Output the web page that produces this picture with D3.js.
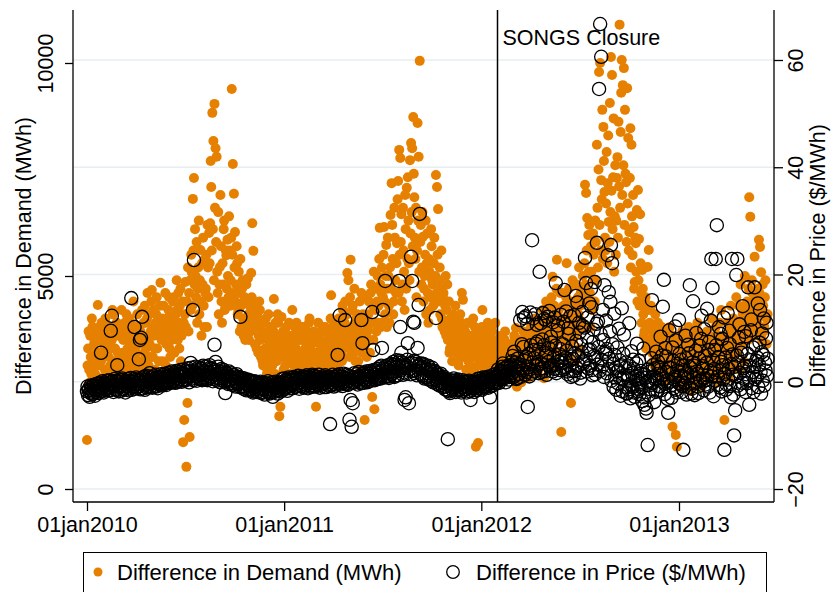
<!DOCTYPE html>
<html>
<head>
<meta charset="utf-8">
<script src="https://cdn.jsdelivr.net/npm/d3@7"></script>
<style>
  body { margin: 0; background: #fff; }
  svg { display: block; font-family: "Liberation Sans", Arial, Helvetica, sans-serif; }
</style>
</head>
<body>
<svg id="chart" width="834" height="592"></svg>
<script>
// Daily observations starting 1 Jan 2010
const seriesStart = "2010-01-01";
const sampleStepDays = 1;

// Difference in demand (MWh), one value per day
const demandMWh = [
  1150, 2900, 3300, 3700, 2800, 2500, 3600, 3100, 2700, 4000, 3800, 2900, 3100, 3400, 3500, 2700, 2600, 3600, 3200, 3000,
  4320, 3200, 2900, 3800, 3500, 2600, 3000, 3900, 3700, 3100, 2500, 3400, 3300, 2800, 4000, 3600, 2800, 3200, 3400, 2700,
  3100, 3500, 3800, 2900, 2700, 3300, 3500, 4200, 4100, 3000, 2900, 3700, 3300, 2800, 2600, 3900, 3700, 3200, 3000, 3600,
  3600, 3100, 2800, 3700, 4200, 3000, 3200, 3500, 2600, 3800, 3900, 2900, 3000, 4100, 3500, 3300, 2700, 3600, 4000, 3100,
  3300, 3900, 2900, 3400, 3700, 2800, 4400, 3500, 3100, 3800, 2600, 3200, 3600, 4100, 3000, 3400, 3800, 2900, 2800, 3700,
  3500, 3000, 4200, 3600, 2700, 3900, 3200, 4300, 3900, 3300, 3000, 4000, 4600, 3500, 2900, 4100, 3400, 3100, 3700, 4400,
  4670, 3800, 3100, 4200, 3600, 3300, 2800, 3900, 4100, 4500, 3300, 3700, 3800, 3000, 2700, 4300, 4840, 3600, 3500, 4000,
  3000, 3900, 4300, 3500, 3700, 4600, 2900, 3400, 4000, 3700, 3400, 4200, 4500, 3300, 3100, 4100, 3800, 3500, 2800, 4400,
  3600, 4500, 3200, 3900, 4100, 3700, 4900, 4200, 3500, 4600, 3900, 3300, 4300, 4700, 3000, 3600, 3800, 4400, 1100, 3900,
  1620, 4100, 4860, 3800, 520, 4400, 2020, 5200, 3700, 4600, 1220, 4900, 4200, 5500, 5090, 4300, 6810, 5600, 7300, 4800,
  6100, 5000, 4500, 5800, 3900, 4700, 5200, 6300, 4100, 4900, 5610, 4400, 3600, 5300, 4800, 5900, 4300, 3800, 5400, 4600,
  4700, 5500, 3800, 6200, 5200, 4500, 6010, 5300, 6240, 7700, 7090, 5600, 8830, 6100, 8170, 4900, 9040, 6600, 8000, 5800,
  7800, 5100, 4600, 6500, 4100, 4800, 5210, 6900, 5700, 4400, 3900, 5300, 4800, 6100, 6300, 4200, 4300, 5600, 5490, 4700,
  5850, 5000, 4500, 6400, 5600, 4300, 4900, 5900, 9390, 5500, 7630, 4600, 6930, 5200, 6030, 4400, 4800, 5700, 5300, 4100,
  4200, 5100, 4600, 3700, 5400, 4300, 3800, 4700, 4900, 4000, 3600, 4400, 4500, 3500, 3900, 4800, 4400, 3700, 4950, 4100,
  3500, 4300, 4100, 3700, 5070, 4500, 6240, 3900, 5590, 4200, 3800, 3400, 4300, 3900, 3300, 4100, 4000, 3200, 3600, 4400,
  4200, 3500, 3100, 3900, 3700, 3000, 2900, 3600, 3900, 3200, 3300, 4000, 3600, 2700, 2800, 3500, 4100, 3100, 3400, 3800,
  3000, 3500, 3800, 2900, 3200, 3700, 4460, 3300, 2700, 3900, 3600, 3000, 3100, 4100, 3900, 3400, 1710, 3200, 1930, 3600,
  4040, 3100, 3300, 3700, 2800, 3400, 3600, 2900, 2600, 3800, 3500, 3200, 3000, 2700, 3900, 3300, 2700, 3600, 3400, 3000,
  4200, 3400, 3100, 2900, 3600, 3800, 2700, 3300, 3900, 3000, 3200, 3600, 2800, 3500, 3700, 2900, 3000, 3800, 3500, 3100,
  2900, 3500, 3800, 3100, 3300, 2800, 2600, 3700, 3600, 3200, 3100, 3900, 4000, 3000, 2800, 3400, 3400, 2700, 3000, 3600,
  3700, 3200, 2700, 3500, 1930, 3000, 3200, 3600, 3900, 2800, 2900, 3400, 3500, 3000, 3100, 3700, 3800, 3300, 2600, 3100,
  3400, 3800, 3000, 3300, 3700, 2900, 2800, 3500, 3600, 3100, 3200, 4000, 4550, 3400, 3300, 3800, 2900, 3600, 3900, 3200,
  3100, 3700, 3500, 2900, 2700, 3400, 4000, 3600, 3300, 3900, 3800, 3200, 3000, 4300, 4200, 3600, 3500, 3900, 4400, 3400,
  3600, 4100, 5070, 3700, 4900, 3300, 3100, 4500, 5380, 3500, 3800, 4200, 4300, 3600, 3200, 4700, 3900, 3000, 3400, 4000,
  4100, 3500, 3000, 3900, 3700, 4400, 2800, 3600, 4600, 3200, 3300, 4100, 3600, 3900, 1620, 3400, 4000, 4500, 3100, 3700,
  3800, 4100, 4400, 3500, 3200, 4600, 4800, 3900, 2160, 4300, 3500, 5100, 1870, 3900, 4200, 4700, 3700, 4400, 5000, 3900,
  4300, 5400, 6130, 4800, 3800, 4600, 5200, 3900, 4500, 5500, 6150, 4400, 4100, 5000, 5730, 3800, 4700, 5900, 5000, 4300,
  3900, 5200, 6430, 4700, 7180, 6200, 5400, 4100, 4400, 6600, 5900, 4900, 4600, 5300, 5770, 6800, 7230, 4600, 7960, 5500,
  7770, 5800, 6450, 4400, 4800, 6600, 5600, 5100, 4200, 6900, 6100, 4700, 7070, 5400, 7320, 6300, 5300, 4900, 7720, 6000,
  8120, 6500, 8000, 5700, 8730, 7400, 6850, 5900, 5400, 6600, 4500, 5600, 8590, 6300, 7800, 5100, 10050, 5800, 6200, 4800,
  5200, 6500, 5920, 4400, 4700, 5000, 5500, 6300, 4100, 5300, 6000, 4600, 3900, 5400, 5100, 4200, 4500, 6100, 5700, 4900,
  4800, 4300, 5300, 5900, 4400, 5000, 7370, 4600, 7090, 5500, 6570, 4400, 4900, 5200, 4100, 4700, 5600, 4000, 3800, 4500,
  4600, 3900, 3700, 4300, 5000, 3600, 4200, 4800, 3500, 3800, 4400, 3200, 3300, 4000, 3900, 3400, 3000, 3700, 4100, 3500,
  3600, 3300, 4300, 3700, 3200, 4000, 3800, 3000, 2900, 3600, 3500, 4100, 3400, 3900, 4600, 3300, 4440, 3800, 3100, 3500,
  3700, 3200, 2800, 3400, 3500, 3900, 3000, 3300, 3900, 2900, 3300, 3600, 2700, 3100, 3600, 4000, 3100, 2800, 3800, 3400,
  990, 3500, 3200, 2900, 1080, 3700, 3600, 3100, 2900, 3400, 3500, 3800, 4200, 3000, 2700, 3300, 3800, 3600, 3100, 2800,
  3300, 3600, 3900, 3100, 2800, 3400, 3500, 2900, 3000, 3800, 3700, 3200, 2600, 3500, 3400, 3000, 3900, 3300, 3200, 2700,
  2700, 3100, 3500, 2800, 3000, 3400, 3600, 2600, 2500, 3200, 3300, 2900, 2900, 3500, 3700, 3000, 2600, 3300, 3200, 2800,
  3400, 2900, 2800, 3200, 3100, 2700, 2600, 3400, 3300, 3000, 2900, 3600, 3500, 2700, 3780, 3200, 2400, 2900, 3100, 3500,
  2800, 3200, 3400, 2600, 2500, 3000, 3200, 3500, 3700, 2900, 2700, 3300, 3000, 2800, 3600, 3100, 2600, 3400, 3300, 2900,
  3100, 3500, 3800, 2900, 2900, 3300, 3500, 3000, 2700, 3700, 4000, 3100, 3200, 3800, 3600, 2900, 2800, 3300, 3400, 3900,
  3900, 3300, 3000, 3600, 4200, 3100, 2600, 3700, 3500, 4000, 4400, 3200, 3100, 3600, 3800, 4300, 2900, 3400, 3300, 3900,
  4500, 3600, 4980, 3900, 3400, 4300, 4100, 3500, 2900, 4700, 5380, 3800, 3700, 4200, 3200, 3900, 4600, 3500, 1340, 4000,
  3800, 4600, 4300, 3500, 3300, 3900, 4000, 4500, 5300, 3700, 3600, 4100, 4700, 3400, 3100, 4400, 2020, 3800, 4200, 4900,
  3500, 4000, 4400, 3600, 3000, 4200, 4800, 3900, 3700, 4500, 4100, 5200, 3300, 4300, 4600, 3800, 3900, 4700, 5000, 4400,
  4500, 5300, 7140, 4800, 6950, 5600, 6360, 4400, 5960, 5100, 6200, 4600, 3800, 5700, 5100, 4200, 4300, 6000, 5500, 4900,
  4400, 6300, 5800, 4900, 8080, 6600, 5200, 7500, 9790, 6200, 10000, 5600, 7250, 6800, 8900, 5400, 8500, 7700, 6970, 5900,
  5600, 6700, 7910, 5300, 7180, 8300, 6270, 5800, 9060, 6500, 10140, 7000, 9720, 6100, 7320, 8700, 5100, 6400, 7600, 5500,
  6300, 7300, 7790, 5900, 8620, 7100, 10900, 6600, 8380, 9300, 10070, 6900, 9480, 7600, 9880, 6200, 8900, 7400, 7200, 5800,
  9410, 6700, 8240, 5600, 6030, 7300, 8470, 5200, 8080, 6400, 5490, 6900, 6150, 4700, 4860, 5900, 5770, 5100, 6550, 4400,
  7020, 4900, 5870, 4300, 6450, 5300, 4600, 3900, 5140, 4700, 4100, 3600, 3700, 4400, 4500, 3300, 3500, 4200, 5210, 3800,
  5610, 3500, 3900, 4200, 4300, 3300, 3200, 3700, 3800, 3000, 2900, 3500, 4100, 3300, 3400, 2800, 3000, 3900, 3600, 3100,
  3300, 3700, 2700, 3100, 3800, 2900, 3100, 3500, 2500, 3300, 3500, 2800, 2900, 3400, 3700, 2600, 2600, 3200, 3200, 3800,
  3400, 3000, 2800, 3300, 1460, 2700, 3600, 3100, 3000, 2600, 1270, 3400, 990, 2900, 2700, 3500, 3300, 2400, 2500, 3200,
  3100, 2800, 3700, 3300, 2400, 3000, 3400, 2700, 2900, 3600, 3500, 2500, 2600, 3200, 3800, 2900, 3000, 3400, 2300, 2800,
  3300, 3000, 2800, 3500, 3600, 2700, 2500, 3100, 3200, 3700, 3900, 2900, 2700, 3300, 3400, 2600, 3000, 3600, 2400, 3100,
  3600, 3200, 2900, 3500, 3300, 2800, 2600, 3000, 3700, 3400, 3100, 2700, 2800, 3600, 3500, 3100, 4000, 3300, 3000, 2700,
  3400, 3100, 2700, 3500, 3800, 2900, 3100, 3300, 2500, 3000, 3600, 3900, 2900, 3200, 4200, 3500, 3300, 2700, 2800, 3400,
  1620, 3200, 3500, 2900, 3000, 3600, 3900, 3300, 2600, 3100, 3400, 3800, 4300, 3500, 3100, 2800, 3700, 4000, 2900, 3300,
  3600, 3300, 4500, 3800, 3200, 3500, 3900, 4300, 2800, 3700, 4800, 3500, 3400, 4200, 4100, 3600, 3000, 3900, 5000, 4300,
  3700, 4100, 4400, 3600, 3500, 4700, 6850, 4200, 6390, 3800, 4000, 4900, 4600, 3900, 3600, 4300, 5450, 4500, 4200, 3700,
  3900, 4400, 4700, 4000, 5850, 4600, 5680, 3800, 5090, 4200, 3500, 4800, 4300, 3700, 3800, 4500, 4900, 4100, 3400, 4000,
  4100
];

// Difference in price ($/MWh), one value per day
const priceDiff = [
  -1.8, -0.9, -2.5, -1.6, -1.2, -2.8, -2.0, -0.7, -1.5, -2.3, -0.9, -1.7, -2.2, -0.6, -1.4, -2.6, -1.0, -0.4, -1.9, -1.3,
  -0.8, -2.1, -1.5, -0.2, -0.4, -1.8, 5.4, -1.1, -1.2, 0.1, -0.6, -2.0, -1.7, -0.5, -0.3, -1.4, -1.0, 0.2, -0.5, -1.6,
  -1.1, 0.3, -0.2, -1.6, 9.5, -0.8, 12.3, 0.1, -0.9, -1.9, -0.4, 0.5, -1.3, -0.6, 0.2, -1.5, 3.1, 0.0, -0.7, -1.8,
  -1.0, 0.4, -0.1, -1.7, -0.8, 0.6, 0.3, -1.3, -1.4, 0.0, -0.5, -2.0, 0.1, -0.7, -0.9, 0.5, -0.3, -1.6, -1.2, 0.2,
  -0.6, 0.7, 15.6, -1.5, 0.0, -0.9, -1.0, 0.5, 10.2, -1.3, -0.4, 0.8, 0.4, -1.1, -0.8, 0.3, 4.2, -0.2, 7.8, -1.4,
  8.2, 0.6, 12.1, -1.2, -0.2, 0.9, -0.7, -1.5, 0.3, 1.1, -1.1, 0.4, 0.0, -0.9, -0.5, 1.0, 1.6, -1.0, -0.3, 0.8,
  0.2, -1.1, -0.6, 1.0, 0.5, -0.8, -0.2, 1.3, -0.9, 0.2, 0.4, -1.2, -0.1, 0.9, 0.7, -0.6, -0.4, 1.4, 0.1, -0.7,
  -0.5, 1.2, 0.6, -0.4, 0.0, 1.5, 0.9, -0.6, -0.3, 1.1, 0.3, 1.7, 1.0, -0.1, -0.2, 1.3, 0.5, 1.9, 0.8, 0.0,
  0.2, 1.6, 1.1, -0.2, 0.6, 2.0, -0.1, 1.2, 1.3, 0.1, 0.4, 1.8, 0.9, 2.2, 1.5, 0.0, 0.3, 1.7, 1.0, 2.3,
  1.4, 0.2, 0.5, 2.1, 1.8, 0.4, 0.8, 2.5, 1.2, -0.1, 2.0, 1.0, 3.5, 2.6, 0.6, 1.5, 13.4, 0.3, 22.7, 1.9,
  1.6, 2.8, 0.9, 0.2, 2.2, 1.4, 1.1, 2.7, 1.9, 0.5, 0.7, 2.5, 2.4, 0.3, 1.3, 3.0, 0.8, 1.7, 2.0, 0.4,
  1.2, 2.9, 2.3, 0.3, 0.6, 1.8, 1.7, 3.1, 2.6, 0.7, 1.0, 2.4, 1.9, 0.1, 0.5, 2.2, 6.9, 1.3, 3.7, 0.8,
  1.4, 0.2, 2.1, 2.8, 0.7, 1.5, 1.6, -0.1, 0.3, 2.4, 1.9, 0.6, 0.9, 2.2, 1.2, 0.0, -2.1, 1.7, 0.4, 1.1,
  1.5, -0.4, 0.2, 1.9, 1.0, 0.4, -0.3, 1.6, 0.8, -0.6, 1.3, 0.1, -0.5, 1.2, 0.6, -0.9, 0.0, 1.4, 0.9, -0.2,
  -0.4, 0.9, 0.5, -1.0, 12.1, 0.2, -0.8, 0.7, 0.3, -1.3, -0.2, 0.6, -1.1, -0.3, 0.1, -1.6, -0.6, 0.4, -1.4, -0.5,
  -0.9, 0.3, 0.2, -1.6, -1.3, -0.2, -0.5, -2.0, -1.8, 0.1, -0.1, -1.4, -1.0, 0.0, -0.7, -1.9, -1.5, -0.4, -0.3, -1.7,
  -1.2, 0.0, -0.6, -2.1, -1.9, -0.5, -0.2, -1.4, -1.0, -2.4, -1.6, -0.3, -0.4, -1.8, -0.9, 0.1, -1.3, -2.0, -2.2, -0.7,
  -0.8, -2.0, -1.5, -0.1, -2.8, -1.1, -0.5, -1.9, -1.2, 0.0, -0.3, -1.6, -1.0, -2.2, -1.7, -0.4, -0.6, -1.3, -0.2, -1.8,
  -0.9, 0.5, -0.1, -1.5, -0.7, 0.6, 0.2, -1.3, -1.1, 0.3, -0.4, -1.7, 0.0, 0.8, -0.8, -1.2, 0.3, -0.6, -0.5, 0.7,
  0.4, -1.2, -0.3, 0.9, 0.1, -1.0, -0.9, 0.7, 0.6, -0.7, -0.2, 1.1, 0.2, -1.3, -0.6, 0.8, 0.5, -0.8, -0.1, 1.0,
  0.3, -1.1, -0.5, 1.0, 0.7, -0.9, 0.0, 1.2, -0.3, -1.2, 0.4, 0.9, -0.7, 0.5, 0.2, -1.0, 0.6, 1.3, -0.2, -0.8,
  0.1, 1.1, 0.5, -0.9, -0.4, 0.9, 0.8, -0.6, -0.1, 1.3, 0.3, -1.1, -0.6, 0.7, 0.6, -0.5, 0.0, 1.0, -0.3, -1.0,
  0.4, 1.2, -0.2, -1.0, 0.7, 0.1, -0.5, 1.0, 0.2, -0.8, -7.9, 0.8, 0.5, -0.6, -0.1, 1.3, 0.3, -0.9, -0.4, 0.9,
  0.6, -0.7, 0.1, 1.2, 5.0, 0.3, -0.3, 1.4, 12.4, -0.5, 0.4, 1.0, 0.9, -0.8, -0.2, 1.5, 0.2, 0.7, 11.5, -0.4,
  0.5, 1.3, 0.1, -0.6, -0.4, 1.1, -7.1, 0.3, -3.4, 1.0, -8.4, 0.6, -4.0, -0.2, 0.8, 1.6, -0.1, 0.4, 0.6, 1.4,
  0.3, -0.5, 1.0, 1.8, 0.0, 0.9, 0.7, -0.3, 11.5, 1.4, 7.2, 0.5, -0.2, 1.7, 1.2, 0.2, 0.4, 1.9, 0.9, -0.1,
  1.5, 0.1, 0.6, 2.0, 1.1, 0.4, 0.2, 1.8, 13.0, 0.9, 5.9, 2.2, 1.3, 0.3, 0.8, 2.1, 1.7, 0.6, 0.5, 2.4,
  1.2, 2.7, 2.0, 0.6, 0.9, 3.0, 6.3, 1.4, 13.4, 2.5, 1.6, 0.8, 18.8, 2.9, 2.3, 1.1, 1.0, 3.1, 1.8, 0.7,
  2.5, 1.0, 1.4, 3.3, 2.9, 1.5, 1.9, 3.7, 3.2, 0.9, 1.1, 2.8, 2.6, 4.0, 2.0, 1.2, 3.6, 2.3, 18.8, 3.9,
  10.2, 2.1, 5.4, 3.6, 2.8, 1.3, 1.7, 3.4, -3.4, 2.6, -2.9, 1.5, 3.0, 4.1, 7.2, 2.2, -4.0, 3.3, 2.4, 1.4,
  23.3, 3.5, 18.8, 2.0, 11.2, 3.9, 11.0, 1.6, 2.1, 3.7, 3.3, 1.2, 6.3, 2.8, 14.3, 3.1, 31.3, 2.5, 1.5, 3.4,
  2.7, 1.1, 1.2, 3.3, 3.1, 0.6, 0.8, 2.5, 2.2, 0.9, 1.6, 3.0, 2.9, 0.4, 0.5, 2.3, 1.9, 0.2, 1.0, 2.6,
  1.4, -0.1, 0.3, 1.9, 2.0, 0.5, 11.9, 1.6, 0.9, -0.5, -0.2, 1.2, 1.3, -0.7, 0.4, 1.5, -0.6, 0.2, 0.7, -1.0,
  -0.3, 0.9, 0.5, -1.4, -0.9, 0.4, 0.1, -1.6, -10.7, -0.2, -0.5, -1.8, -2.1, 0.3, -1.2, -0.4, 0.2, -1.5, -0.7, 0.6,
  -1.0, 0.2, -0.2, -1.9, -1.5, -0.3, -0.6, 0.4, 0.0, -1.6, -1.3, -0.1, -0.4, -2.0, -0.9, 0.3, -1.7, -0.5, -0.1, -1.4,
  -0.8, 0.1, -1.4, -2.0, -0.3, -1.0, -1.1, 0.2, -0.6, -1.8, -3.4, -0.4, -0.2, -1.5, -1.2, 0.0, -0.5, -1.9, -0.9, -0.1,
  -0.3, -1.6, -1.0, 0.5, 0.1, -1.2, -0.7, 0.6, -1.3, -0.4, -0.2, -1.5, 0.3, 0.8, -0.8, -1.1, -0.1, 0.7, 0.4, -0.9,
  -0.5, 0.9, 0.2, -1.1, -0.4, 1.0, -2.9, 0.3, 0.5, -0.8, -0.2, 1.2, 0.7, -0.6, 0.1, 1.4, 0.9, -0.3, -0.3, 1.1,
  0.8, 2.3, 1.5, -0.2, 0.3, 1.9, 2.1, 0.5, 1.0, 2.8, 3.4, 0.9, 0.6, 2.5, 1.8, -0.1, 2.6, 1.4, 1.2, 3.0,
  2.0, 0.4, 0.9, 2.7, 3.1, 1.2, 1.6, 3.8, 4.8, 0.8, 2.4, 5.6, 1.1, 2.9, 3.6, 0.5, 0.7, 4.3, 2.8, 1.5,
  1.4, 3.2, 11.5, 0.9, 2.5, 7.0, 13.0, 2.1, 6.5, 11.9, 3.9, 1.3, 12.2, 4.6, 1.8, 10.8, -4.7, 2.7, 5.2, 1.0,
  2.3, 12.9, 6.8, 1.5, 26.4, 3.6, 11.8, 5.9, 4.4, 1.9, 12.6, 7.1, 2.9, 10.6, 7.5, 3.2, 1.6, 6.0, 20.5, 2.4,
  10.9, 1.8, 3.4, 7.9, 12.8, 2.5, 6.8, 11.7, 2.0, 4.9, 11.4, 1.3, 5.4, 12.1, 3.7, 6.3, 13.2, 2.9, 2.6, 8.4,
  7.3, 3.0, 1.9, 11.1, 4.6, 2.4, 12.0, 6.7, 18.4, 1.6, 3.2, 9.5, 10.5, 3.8, 2.2, 5.1, 6.1, 12.5, 4.0, 2.1,
  3.5, 7.0, 11.2, 2.3, 17.1, 4.4, 2.7, 13.1, 5.8, 1.9, 1.4, 10.0, 8.9, 3.0, 3.9, 12.2, 0.9, 4.7, 6.6, 2.0,
  4.2, 1.1, 12.4, 5.3, 2.0, 16.0, 7.6, 2.6, 14.8, 4.9, 3.1, 11.0, 9.2, 0.6, 1.7, 6.9, 5.5, 13.0, 10.4, 3.4,
  3.8, 10.1, 23.1, 4.3, 18.4, 1.9, 8.3, 12.0, 2.5, 5.9, 14.6, 3.0, 6.0, 17.3, 13.9, 2.2, 1.2, 7.4, 9.7, 4.8,
  18.6, 1.4, 4.5, 10.8, 25.9, 3.2, 11.3, 6.5, 54.6, 2.0, 66.7, 8.9, 60.6, 4.1, 2.9, 13.4, 7.8, 0.9, 18.0, 5.6,
  5.2, 11.4, 1.6, 6.1, 23.6, 2.4, 16.7, 4.3, 9.4, 14.9, 25.5, 0.2, 22.1, 7.0, 3.3, -1.0, 12.7, 5.0, 0.8, 2.6,
  -1.5, 1.9, 6.4, -0.3, 2.1, 9.9, 4.0, 0.7, -2.6, 3.1, 13.7, -1.8, 0.5, 5.2, 8.8, 1.2, -0.9, 2.6, 3.6, -2.1,
  -2.2, 0.6, 1.1, -1.4, 10.9, 2.9, -3.1, -0.5, 5.7, 1.6, -1.0, 4.1, 2.4, -2.0, -2.8, 0.9, 0.3, 3.4, 7.1, -1.3,
  -1.8, 0.5, 3.9, -2.4, -0.4, 2.0, 1.5, -1.1, -3.6, 0.8, 6.2, -2.9, -4.3, 1.3, 0.7, -5.0, -5.8, 0.1, -11.8, 2.3,
  -2.5, 0.2, 1.9, -1.4, -0.6, 4.4, 15.2, -0.2, 3.1, 1.0, -3.8, 2.5, 0.4, -1.9, 5.6, 0.7, -1.7, 3.8, 2.8, -0.8,
  -0.9, 2.2, 8.4, -1.6, 1.2, 4.9, 14.0, 0.5, 19.0, -0.4, -2.3, 6.3, 4.7, 1.8, 0.2, -3.2, -5.8, 2.6, 9.6, 0.0,
  2.6, -0.7, -3.0, 1.5, 6.4, 3.9, -1.2, 0.4, 0.9, 10.3, 7.7, -1.5, -2.0, 2.1, 3.3, -0.2, 11.5, 5.2, -0.4, 1.1,
  4.1, -1.9, -0.8, 3.0, -12.7, 0.9, 2.2, -0.3, 8.6, 4.4, -2.4, 1.6, 0.6, 6.9, 5.3, -1.1, 18.0, 2.7, 1.7, -2.2,
  -1.3, 3.6, 15.0, 0.8, 3.0, -2.5, -0.2, 5.8, 9.1, 1.9, 1.4, -0.9, -2.1, 4.3, 6.7, 0.3, 0.1, 8.0, 12.3, 2.4,
  2.9, 0.6, -1.6, 9.8, 4.8, -0.5, 0.3, 3.5, 13.6, 1.2, -0.9, 5.9, 7.4, -2.0, 2.0, 11.4, 22.9, 1.0, 17.5, 4.0,
  -2.7, 2.4, 5.9, 0.2, 22.9, 6.8, 29.2, -0.6, 1.0, 4.6, 10.2, 2.0, -1.1, 8.9, 3.7, -1.8, 8.0, 3.1, 0.4, 12.0,
  -12.7, 1.5, 4.5, -1.5, -0.5, 6.3, 12.8, 0.4, 2.4, 9.5, 7.0, -0.8, -2.9, 3.3, 22.9, 5.1, 1.3, -2.4, -10.0, 2.8,
  -5.3, 1.0, 19.9, 4.9, 22.9, -0.7, 3.6, 8.2, 10.7, 1.7, -1.4, 5.4, 6.1, -0.2, 14.1, 2.5, 0.6, 9.3, 2.9, -1.9,
  8.5, 1.4, -0.3, 5.2, 17.6, 0.8, -4.3, 3.0, 4.0, 9.6, 11.6, -1.2, 1.8, 6.4, -1.9, 2.7, 17.6, 0.5, 6.8, 3.9,
  0.9, 4.5, 14.6, -1.0, 3.2, 7.3, 13.4, 1.8, -2.2, 5.5, 9.0, 0.2, 5.0, 11.8, -0.7, 3.6, 2.1, 8.1, 11.0, 1.1,
  4.3
];

// Axis ticks and labels
const xTickDates = ["2010-01-01", "2011-01-01", "2012-01-01", "2013-01-01"];
const xTickLabels = ["01jan2010", "01jan2011", "01jan2012", "01jan2013"];
const demandTicks = [0, 5000, 10000];
const priceTicks = [-20, 0, 20, 40, 60];
const demandTitle = "Difference in Demand (MWh)";
const priceTitle = "Difference in Price ($/MWh)";
const closureDate = "2012-01-31";
const closureLabel = "SONGS Closure";

// ---------------------------------------------------------------------------
const W = 834, H = 592;
const plot = { left: 73, right: 774, top: 10, bottom: 502 };
const orange = "#e68000";
const fontSize = 21.5;

const parse = d3.utcParse("%Y-%m-%d");
const t0 = parse(seriesStart);
const demandPts = demandMWh.map((v, i) => ({ date: d3.utcDay.offset(t0, i * sampleStepDays), v }));
const pricePts = priceDiff.map((v, i) => ({ date: d3.utcDay.offset(t0, i * sampleStepDays), v }));

const x = d3.scaleUtc()
  .domain([parse(xTickDates[0]), parse(xTickDates[3])])
  .range([87, 679]);
const yDemand = d3.scaleLinear().domain([0, 10000]).range([489, 63]);
const yPrice = d3.scaleLinear().domain([-20, 60]).range([489, 60]);

const svg = d3.select("#chart");
svg.append("rect").attr("width", W).attr("height", H).attr("fill", "#fff");

// Grid lines at the price ticks
svg.append("g").selectAll("line").data(priceTicks).join("line")
  .attr("x1", plot.left).attr("x2", plot.right)
  .attr("y1", d => yPrice(d)).attr("y2", d => yPrice(d))
  .attr("stroke", "#e7eef1").attr("stroke-width", 1.5);

// Demand markers
svg.append("g").selectAll("circle").data(demandPts).join("circle")
  .attr("cx", d => x(d.date)).attr("cy", d => yDemand(d.v))
  .attr("r", 5).attr("fill", orange);

// Price markers
svg.append("g").selectAll("circle").data(pricePts).join("circle")
  .attr("cx", d => x(d.date)).attr("cy", d => yPrice(d.v))
  .attr("r", 6.6).attr("fill", "none").attr("stroke", "#000").attr("stroke-width", 1.3);

// Closure marker
const xc = x(parse(closureDate));
svg.append("line")
  .attr("x1", xc).attr("x2", xc).attr("y1", plot.top).attr("y2", plot.bottom)
  .attr("stroke", "#000").attr("stroke-width", 1.5);
svg.append("text")
  .attr("x", xc + 5).attr("y", 45)
  .attr("font-size", fontSize).attr("fill", "#000")
  .text(closureLabel);

// Axis frame (left, bottom, right)
const frame = svg.append("g").attr("stroke", "#000").attr("stroke-width", 1.3);
frame.append("line").attr("x1", plot.left).attr("x2", plot.left).attr("y1", plot.top).attr("y2", plot.bottom);
frame.append("line").attr("x1", plot.right).attr("x2", plot.right).attr("y1", plot.top).attr("y2", plot.bottom);
frame.append("line").attr("x1", plot.left).attr("x2", plot.right).attr("y1", plot.bottom).attr("y2", plot.bottom);

function styleAxis(g) {
  g.select(".domain").remove();
  g.selectAll(".tick line").attr("stroke", "#000").attr("stroke-width", 1.3);
  g.selectAll(".tick text").attr("fill", "#000").attr("font-size", fontSize)
    .attr("font-family", "Liberation Sans, Arial, sans-serif");
}

// Left axis: demand
svg.append("g").attr("transform", `translate(${plot.left},0)`)
  .call(d3.axisLeft(yDemand).tickValues(demandTicks).tickSize(8).tickSizeOuter(0)
    .tickFormat(d3.format("d")))
  .call(styleAxis)
  .call(g => g.selectAll(".tick text")
    .attr("x", 0).attr("y", 0).attr("dy", 0)
    .attr("text-anchor", "middle")
    .attr("transform", "translate(-20,0) rotate(-90)"));

// Right axis: price
svg.append("g").attr("transform", `translate(${plot.right},0)`)
  .call(d3.axisRight(yPrice).tickValues(priceTicks).tickSize(9).tickSizeOuter(0)
    .tickFormat(d => d < 0 ? "\u2212" + Math.abs(d) : String(d)))
  .call(styleAxis)
  .call(g => g.selectAll(".tick text")
    .attr("x", 0).attr("y", 0).attr("dy", 0)
    .attr("text-anchor", "middle")
    .attr("transform", "translate(29,0) rotate(-90)"));

// Bottom axis: dates
svg.append("g").attr("transform", `translate(0,${plot.bottom})`)
  .call(d3.axisBottom(x).tickValues(xTickDates.map(parse)).tickSize(9).tickSizeOuter(0)
    .tickFormat((d, i) => xTickLabels[i]))
  .call(styleAxis)
  .call(g => g.selectAll(".tick text").attr("y", 30).attr("dy", 0));

// Axis titles
const midY = (plot.top + plot.bottom) / 2;
svg.append("text")
  .attr("transform", `translate(31,${midY}) rotate(-90)`)
  .attr("text-anchor", "middle").attr("font-size", fontSize).attr("fill", "#000")
  .text(demandTitle);
svg.append("text")
  .attr("transform", `translate(825,${midY}) rotate(-90)`)
  .attr("text-anchor", "middle").attr("font-size", fontSize).attr("fill", "#000")
  .text(priceTitle);

// Legend
const lg = svg.append("g");
lg.append("rect").attr("x", 83.5).attr("y", 552.5).attr("width", 683).attr("height", 60)
  .attr("fill", "#fff").attr("stroke", "#000").attr("stroke-width", 1);
lg.append("circle").attr("cx", 98).attr("cy", 572).attr("r", 4.5).attr("fill", orange);
lg.append("text").attr("x", 117).attr("y", 580).attr("font-size", 22).attr("fill", "#000").text(demandTitle);
lg.append("circle").attr("cx", 453).attr("cy", 572).attr("r", 6.3)
  .attr("fill", "none").attr("stroke", "#000").attr("stroke-width", 1.3);
lg.append("text").attr("x", 476).attr("y", 580).attr("font-size", 22).attr("fill", "#000").text(priceTitle);
</script>
</body>
</html>
